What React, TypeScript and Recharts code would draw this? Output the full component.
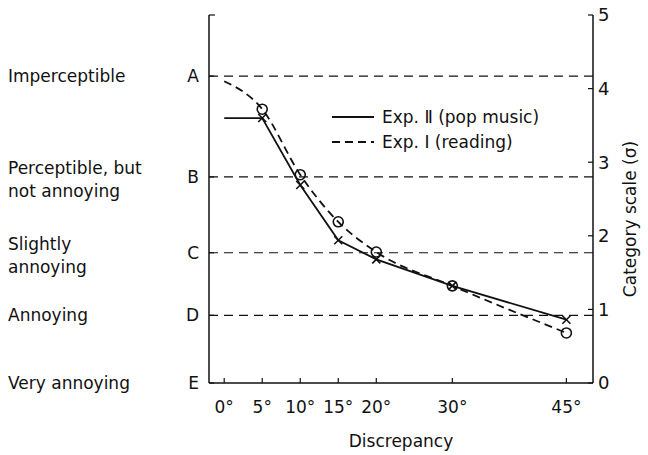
import React from 'react';
import { LineChart, Line, XAxis, YAxis, ReferenceLine, Label } from 'recharts';

const discrepancy = [0, 5, 10, 15, 20, 30, 45];
const popMusic = [3.6, 3.6, 2.69, 1.94, 1.68, 1.32, 0.86];
const reading = [4.1, 3.72, 2.83, 2.19, 1.78, 1.32, 0.68];

const scaleTicks = [0, 1, 2, 3, 4, 5];
const categoryLetters = ['A', 'B', 'C', 'D', 'E'];
const categoryBounds = [4.17, 2.8, 1.77, 0.92, 0];
const categoryNames = [
  ['Imperceptible'],
  ['Perceptible, but', 'not annoying'],
  ['Slightly', 'annoying'],
  ['Annoying'],
  ['Very annoying'],
];

const data = discrepancy.map((d, i) => ({ deg: d, pop: popMusic[i], reading: reading[i] }));

const FONT = '"DejaVu Sans", sans-serif';
const INK = '#111';

const CrossDot = (props: any) => {
  const { cx, cy, index } = props;
  if (index === 0 || cx == null) return <g key={`x-${index}`} />;
  const s = 4;
  return (
    <g key={`x-${index}`} stroke={INK} strokeWidth={1.6}>
      <line x1={cx - s} y1={cy - s} x2={cx + s} y2={cy + s} />
      <line x1={cx - s} y1={cy + s} x2={cx + s} y2={cy - s} />
    </g>
  );
};

const CircleDot = (props: any) => {
  const { cx, cy, index } = props;
  if (index === 0 || cx == null) return <g key={`o-${index}`} />;
  return <circle key={`o-${index}`} cx={cx} cy={cy} r={5} fill="none" stroke={INK} strokeWidth={1.6} />;
};

const LeftTick = (props: any) => {
  const { x, y, payload } = props;
  const i = categoryBounds.indexOf(payload.value);
  if (i < 0) {
    return <line x1={x} y1={y} x2={x + 6} y2={y} stroke={INK} strokeWidth={1.2} />;
  }
  const lines = categoryNames[i];
  const offsets = lines.length === 1 ? [0] : [-9, 14];
  return (
    <g fontFamily={FONT} fill={INK}>
      <line x1={x} y1={y} x2={x + 5} y2={y} stroke={INK} strokeWidth={1.2} />
      <text x={x - 10} y={y} dy="0.36em" textAnchor="end" fontSize={17}>
        {categoryLetters[i]}
      </text>
      {lines.map((t, j) => (
        <text key={t} x={8} y={y + offsets[j]} dy="0.36em" fontSize={17}>
          {t}
        </text>
      ))}
    </g>
  );
};

const RightTick = (props: any) => {
  const { x, y, payload } = props;
  return (
    <g fontFamily={FONT} fill={INK}>
      <line x1={x} y1={y} x2={x - 5} y2={y} stroke={INK} strokeWidth={1.2} />
      <text x={x + 5} y={y} dy="0.36em" fontSize={18}>
        {payload.value}
      </text>
    </g>
  );
};

const BottomTick = (props: any) => {
  const { x, y, payload } = props;
  return (
    <g fontFamily={FONT} fill={INK}>
      <line x1={x} y1={y} x2={x} y2={y - 5} stroke={INK} strokeWidth={1.2} />
      <text x={x} y={y + 30} textAnchor="middle" fontSize={17}>
        {`${payload.value}°`}
      </text>
    </g>
  );
};

const LegendBox = () => (
  <svg width={260} height={60} style={{ position: 'absolute', left: 328, top: 105, fontFamily: FONT }}>
    <line x1={4} y1={12} x2={46} y2={12} stroke={INK} strokeWidth={1.8} />
    <text x={54} y={12} dy="0.36em" fontSize={17} fill={INK}>Exp. Ⅱ (pop music)</text>
    <line x1={4} y1={37} x2={46} y2={37} stroke={INK} strokeWidth={1.8} strokeDasharray="8 5" />
    <text x={54} y={37} dy="0.36em" fontSize={17} fill={INK}>Exp. Ⅰ (reading)</text>
  </svg>
);

export default function App() {
  return (
    <div style={{ position: 'absolute', left: 0, top: 0, width: 648, height: 455, background: '#fff' }}>
      <LineChart width={648} height={455} data={data} margin={{ top: 15, right: 0, bottom: 0, left: 0 }}>
        <XAxis
          dataKey="deg"
          type="number"
          domain={[-2, 48.5]}
          ticks={discrepancy}
          allowDataOverflow
          height={72}
          stroke={INK}
          strokeWidth={1.5}
          tickSize={0}
          tickMargin={0}
          tickLine={false}
          tick={<BottomTick />}
        >
          <Label value="Discrepancy" position="insideBottom" offset={8} fill={INK} fontSize={17} fontFamily={FONT} />
        </XAxis>
        <YAxis
          yAxisId="left"
          orientation="left"
          type="number"
          domain={[0, 5]}
          ticks={[5, ...categoryBounds]}
          width={209}
          stroke={INK}
          strokeWidth={1.5}
          tickSize={0}
          tickMargin={0}
          tickLine={false}
          tick={<LeftTick />}
          interval={0}
        />
        <YAxis
          yAxisId="right"
          orientation="right"
          type="number"
          domain={[0, 5]}
          ticks={scaleTicks}
          width={55}
          stroke={INK}
          strokeWidth={1.5}
          tickSize={0}
          tickMargin={0}
          tickLine={false}
          tick={<RightTick />}
          interval={0}
        >
          <Label
            value="Category scale (σ)"
            angle={-90}
            position="insideRight"
            offset={18}
            dy={20}
            fill={INK}
            fontSize={17}
            fontFamily={FONT}
            style={{ textAnchor: 'middle' }}
          />
        </YAxis>
        {categoryBounds.slice(0, 4).map((b) => (
          <ReferenceLine key={b} yAxisId="right" y={b} stroke={INK} strokeWidth={1.2} strokeDasharray="9 6" />
        ))}
        <Line
          yAxisId="left"
          dataKey="pop"
          type="linear"
          stroke={INK}
          strokeWidth={1.8}
          dot={CrossDot}
          isAnimationActive={false}
        />
        <Line
          yAxisId="right"
          dataKey="reading"
          type="monotone"
          stroke={INK}
          strokeWidth={1.8}
          strokeDasharray="8 5"
          dot={CircleDot}
          isAnimationActive={false}
        />
      </LineChart>
      <LegendBox />
    </div>
  );
}
